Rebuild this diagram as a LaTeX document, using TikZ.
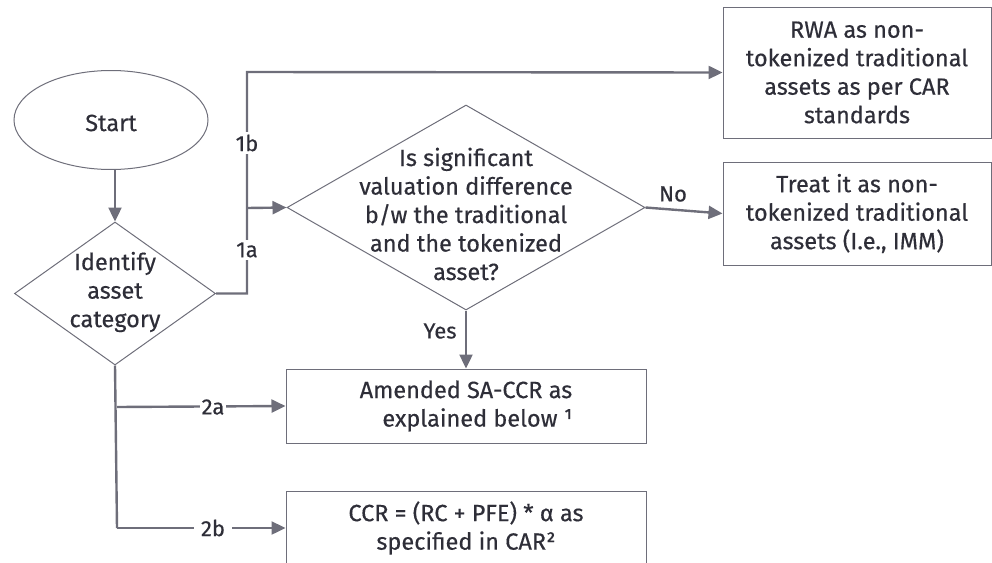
\documentclass[tikz,border=0pt]{standalone}
\usepackage{fontspec}
\setmainfont{Fira Sans}[FakeBold=0.4]
\usetikzlibrary{shapes.geometric,arrows.meta}
\definecolor{ln}{HTML}{6E6E7A}
\definecolor{tx}{HTML}{2E2E38}
\begin{document}
\begin{tikzpicture}[x=1pt,y=-1pt,
  every node/.style={text=tx},
  txt/.style={align=center,inner sep=0pt,font=\fontsize{23.5}{28.5}\selectfont},
  lbl/.style={fill=white,inner sep=3pt,font=\fontsize{22}{24}\selectfont},
  shp/.style={draw=ln,line width=1pt,inner sep=0pt},
  boxx/.style={shp,rectangle,align=center,font=\fontsize{23.5}{28.5}\selectfont,minimum width=#1},
  conn/.style={draw=ln,line width=2.4pt},
  arr/.style={conn,-{Triangle[length=14pt,width=13pt]}}]
\useasboundingbox (0,0) rectangle (992,562);
% shapes
\node[shp,ellipse,minimum width=194,minimum height=99] (start) at (111,120) {};
\node[txt] (startt) at (111,123) {Start};
\node[shp,diamond,minimum width=201,minimum height=143] (ident) at (115,293.5) {};
\node[txt] (identt) at (115,292) {Identify\\asset\\category};
\node[shp,diamond,minimum width=358,minimum height=205] (q) at (466,207.5) {};
\node[txt] (qt) at (466,214) {Is significant\\valuation difference\\b/w the traditional\\and the tokenized\\asset?};
\node[boxx=268,minimum height=131] (rwa) at (857,72.5) {RWA as non-\\tokenized traditional\\assets as per CAR\\standards};
\node[boxx=268,minimum height=103] (treat) at (857,213.5) {Treat it as non-\\tokenized traditional\\assets (I.e., IMM)};
\node[boxx=360,minimum height=74] (amend) at (466,406) {Amended SA-CCR as\\\hspace*{1em}explained below ¹};
\node[boxx=360,minimum height=74] (ccr) at (466,528) {CCR = (RC + PFE) * α as\\specified in CAR²};
% connectors
\coordinate (vt) at (247,72);
\coordinate (vm) at (247,208);
\coordinate (vb) at (117,528);
\coordinate (b2a) at (117,407);
\draw[arr] (ident.north |- start.south) -- (ident.north);
\draw[arr] (ident.east) -| (vt) -- (rwa.west);
\draw[arr] (vm) -- (q.west);
\node[lbl] (l1b) at (247,143) {1b};
\node[lbl] (l1a) at (247,250) {1a};
\draw[arr] (q.east) -- (treat.west);
\node[font=\fontsize{22}{24}\selectfont] (no) at (673,194) {No};
\draw[arr] (q.south) -- (amend.north);
\node[font=\fontsize{22}{24}\selectfont] (yes) at (440,331) {Yes};
\draw[conn] (ident.south) -- (vb);
\draw[arr] (vb) -- (ccr.west);
\draw[arr] (b2a) -- (amend.west);
\node[lbl,inner xsep=2pt] (l2a) at (213,407) {2a};
\node[lbl,inner xsep=7pt] (l2b) at (213,528) {2b};
\end{tikzpicture}
\end{document}
